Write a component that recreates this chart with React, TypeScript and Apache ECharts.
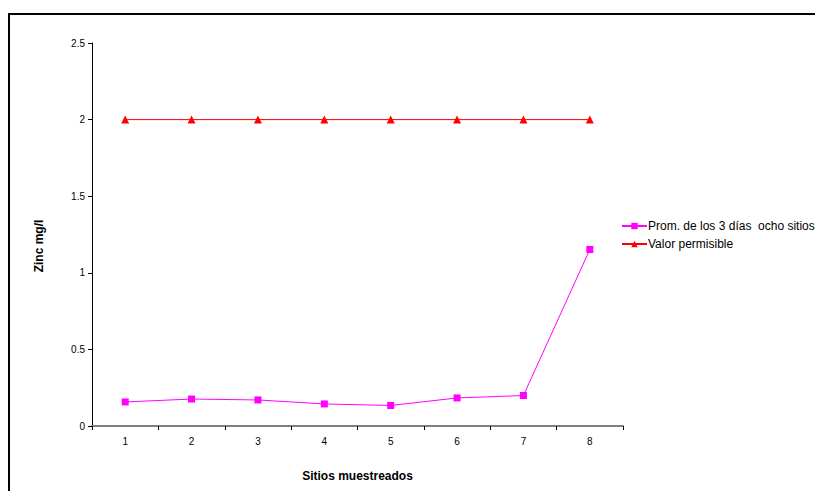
import React, { useEffect, useRef } from "react";
import * as echarts from "echarts";

const sites = ["1", "2", "3", "4", "5", "6", "7", "8"];
const promedio = [0.157, 0.176, 0.17, 0.144, 0.134, 0.183, 0.199, 1.152];
const permisible = [2, 2, 2, 2, 2, 2, 2, 2];
const seriesNames = ["Prom. de los 3 días  ocho sitios", "Valor permisible"];

export default function App() {
  const ref = useRef<HTMLDivElement>(null);
  useEffect(() => {
    const chart = echarts.init(ref.current!, undefined, { renderer: "svg" });
    const font = "Liberation Sans, Arial, sans-serif";
    chart.setOption({
      animation: false,
      backgroundColor: "#fff",
      textStyle: { fontFamily: font },
      grid: { left: 92, top: 43, width: 531, height: 383 },
      legend: {
        left: 616,
        top: 215,
        orient: "vertical",
        itemWidth: 25,
        itemHeight: 8,
        itemGap: 6,
        textStyle: { fontSize: 12, color: "#000", fontFamily: font, padding: [0, 0, 0, -4] },
        data: seriesNames,
      },
      xAxis: {
        type: "category",
        data: sites,
        boundaryGap: true,
        name: "Sitios muestreados",
        nameLocation: "middle",
        nameGap: 44,
        nameTextStyle: { fontSize: 12, fontWeight: "bold", color: "#000", fontFamily: font },
        axisLine: { lineStyle: { color: "#808080", width: 2 } },
        axisTick: { show: true, length: 4, lineStyle: { color: "#000", width: 1 } },
        axisLabel: { fontSize: 10, color: "#000", margin: 10, fontFamily: font },
        splitLine: { show: false },
      },
      yAxis: {
        type: "value",
        min: 0,
        max: 2.5,
        interval: 0.5,
        axisLine: { show: true, lineStyle: { color: "#000", width: 1 } },
        axisTick: { show: true, length: 4, lineStyle: { color: "#000" } },
        axisLabel: { fontSize: 10, color: "#000", margin: 7, fontFamily: font },
        splitLine: { show: false },
      },
      graphic: [
        {
          type: "rect",
          shape: { x: 9, y: 14, width: 830, height: 500 },
          style: { fill: "none", stroke: "#000", lineWidth: 2 },
          silent: true,
        },
        {
          type: "text",
          x: 39,
          y: 246,
          rotation: Math.PI / 2,
          style: {
            text: "Zinc mg/l",
            fontSize: 12,
            fontWeight: "bold",
            fill: "#000",
            fontFamily: font,
            align: "center",
            verticalAlign: "middle",
          },
        },
      ],
      series: [
        {
          name: seriesNames[0],
          type: "line",
          data: promedio,
          symbol: "rect",
          symbolSize: 7,
          itemStyle: { color: "#FF00FF" },
          lineStyle: { color: "#FF00FF", width: 1 },
        },
        {
          name: seriesNames[1],
          type: "line",
          data: permisible,
          symbol: "triangle",
          symbolSize: 8,
          itemStyle: { color: "#FF0000" },
          lineStyle: { color: "#FF0000", width: 1 },
        },
      ],
    });
    return () => chart.dispose();
  }, []);
  return (
    <div
      ref={ref}
      style={{ position: "absolute", left: 0, top: 0, width: 815, height: 491 }}
    />
  );
}
